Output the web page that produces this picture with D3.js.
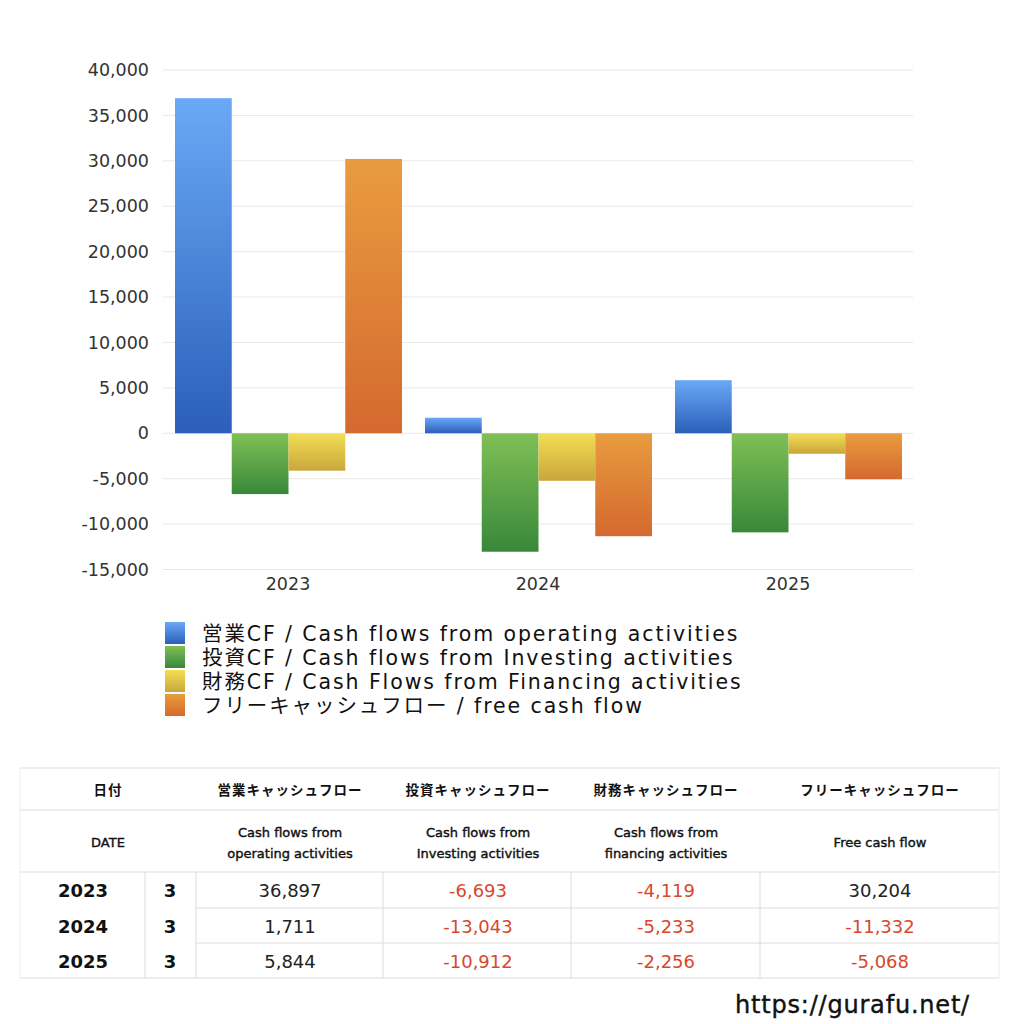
<!DOCTYPE html>
<html>
<head>
<meta charset="utf-8">
<script src="https://cdn.jsdelivr.net/npm/d3@7"></script>
<style>
  body { margin: 0; background: #fff; }
  svg { font-family: "DejaVu Sans", "Noto Sans CJK JP", sans-serif; }
</style>
</head>
<body>
<script>
const years = ["2023", "2024", "2025"];
const months = ["3", "3", "3"];
const operating = [36897, 1711, 5844];
const investing = [-6693, -13043, -10912];
const financing = [-4119, -5233, -2256];
const freeCF = [30204, -11332, -5068];
const yTicks = [-15000, -10000, -5000, 0, 5000, 10000, 15000, 20000, 25000, 30000, 35000, 40000];

const seriesNames = [
  "営業CF / Cash flows from operating activities",
  "投資CF / Cash flows from Investing activities",
  "財務CF / Cash Flows from Financing activities",
  "フリーキャッシュフロー / free cash flow"
];
const headJa = ["日付", "営業キャッシュフロー", "投資キャッシュフロー", "財務キャッシュフロー", "フリーキャッシュフロー"];
const headEn = [["DATE"], ["Cash flows from", "operating activities"], ["Cash flows from", "Investing activities"], ["Cash flows from", "financing activities"], ["Free cash flow"]];

const seriesValues = [operating, investing, financing, freeCF];
const colors = [
  ["#6aa9f6", "#2b5fb9"],
  ["#80bf56", "#38883a"],
  ["#f3de55", "#c9a63c"],
  ["#e99c3f", "#d4692f"]
];

// hyphen instead of unicode minus, like the original
var fmt = v => d3.format(",")(v).replace("\u2212", "-");

var svg = d3.select("body").append("svg")
    .attr("width", 1024)
    .attr("height", 1024);

var defs = svg.append("defs");
colors.forEach((c, i) => {
  var g = defs.append("linearGradient")
      .attr("id", "grad" + i)
      .attr("x1", 0).attr("y1", 0).attr("x2", 0).attr("y2", 1);
  g.append("stop").attr("offset", "0%").attr("stop-color", c[0]);
  g.append("stop").attr("offset", "100%").attr("stop-color", c[1]);
});

// chart area
var left = 163, right = 913;
var y = d3.scaleLinear().domain([-15000, 40000]).range([569.5, 70]);
var x0 = d3.scaleBand().domain(years).range([left, right]);
var x1 = d3.scaleBand().domain(d3.range(4)).range([12, x0.bandwidth() - 11]);

// gridlines
svg.append("g")
  .selectAll("line")
  .data(yTicks)
  .enter().append("line")
    .attr("x1", left).attr("x2", right)
    .attr("y1", d => y(d)).attr("y2", d => y(d))
    .attr("stroke", "#e8e8e8");

// y axis
var yAxis = svg.append("g")
    .attr("transform", "translate(" + left + ",0)")
    .call(d3.axisLeft(y).tickValues(yTicks).tickSize(0).tickPadding(14).tickFormat(fmt));
yAxis.select(".domain").remove();
yAxis.selectAll("text").attr("font-size", 17.5).attr("fill", "#333").style("font-family", "'DejaVu Sans', sans-serif");

// x axis
var xAxis = svg.append("g")
    .attr("transform", "translate(0," + 573 + ")")
    .call(d3.axisBottom(x0).tickSize(0).tickPadding(5));
xAxis.select(".domain").remove();
xAxis.selectAll("text").attr("font-size", 17.5).attr("fill", "#333").style("font-family", "'DejaVu Sans', sans-serif");

// bars
years.forEach((yr, gi) => {
  seriesValues.forEach((vals, si) => {
    var v = vals[gi];
    svg.append("rect")
      .attr("x", x0(yr) + x1(si))
      .attr("width", x1.bandwidth())
      .attr("y", y(Math.max(0, v)))
      .attr("height", Math.abs(y(v) - y(0)))
      .attr("fill", "url(#grad" + si + ")");
  });
});

// legend
var legend = svg.append("g").attr("transform", "translate(165,622)");
seriesNames.forEach((name, i) => {
  var row = legend.append("g").attr("transform", "translate(0," + (i * 24) + ")");
  row.append("rect").attr("width", 20).attr("height", 22).attr("fill", "url(#grad" + i + ")");
  row.append("text").attr("x", 37).attr("y", 19).attr("font-size", 20.5)
    .attr("letter-spacing", 1.9).attr("fill", "#111").text(name);
});

// table
var rowY = [768, 810, 872, 908, 943, 978];
var tbl = svg.append("g");
var lineColor = "#dcdcdc";

function hline(x1, x2, yy) {
  tbl.append("line").attr("x1", x1).attr("x2", x2).attr("y1", yy).attr("y2", yy).attr("stroke", lineColor);
}
function vline(xx, y1, y2, c) {
  tbl.append("line").attr("x1", xx).attr("x2", xx).attr("y1", y1).attr("y2", y2).attr("stroke", c || lineColor);
}
hline(20, 999, rowY[0]);
hline(20, 999, rowY[1]);
hline(20, 999, rowY[2]);
hline(196, 999, rowY[3]);
hline(196, 999, rowY[4]);
hline(20, 999, rowY[5]);
vline(20, rowY[0], rowY[5], "#eee");
vline(999, rowY[0], rowY[5], "#eee");
[145, 196, 383, 571, 760].forEach(cx => vline(cx, rowY[2], rowY[5]));

// header texts
var headCenters = [108, 290, 478, 666, 880];
headJa.forEach((t, i) => {
  tbl.append("text").attr("x", headCenters[i]).attr("y", 795)
    .attr("text-anchor", "middle").attr("font-size", 13.5).attr("letter-spacing", 1)
    .attr("font-weight", "bold").attr("fill", "#111").text(t);
});
headEn.forEach((lines, i) => {
  lines.forEach((ln, j) => {
    var yy = lines.length === 1 ? 847 : 837 + j * 21;
    tbl.append("text").attr("x", headCenters[i]).attr("y", yy)
      .attr("text-anchor", "middle").attr("font-size", 13).attr("fill", "#111")
      .attr("stroke", "#111").attr("stroke-width", 0.4).text(ln);
  });
});

// data rows
var valCenters = [290, 478, 666, 880];
years.forEach((yr, r) => {
  var cy = (rowY[r + 2] + rowY[r + 3]) / 2 + 7;
  tbl.append("text").attr("x", 83).attr("y", cy).attr("text-anchor", "middle")
    .attr("font-size", 18).attr("font-weight", "bold").attr("fill", "#111").text(yr);
  tbl.append("text").attr("x", 170).attr("y", cy).attr("text-anchor", "middle")
    .attr("font-size", 18).attr("font-weight", "bold").attr("fill", "#111").text(months[r]);
  seriesValues.forEach((vals, si) => {
    var v = vals[r];
    tbl.append("text").attr("x", valCenters[si]).attr("y", cy).attr("text-anchor", "middle")
      .attr("font-size", 18).attr("fill", v < 0 ? "#d9472b" : "#222").text(fmt(v));
  });
});

// source url
svg.append("text").attr("x", 970).attr("y", 1013).attr("text-anchor", "end")
  .attr("font-size", 24).attr("letter-spacing", 0.8).attr("fill", "#111")
  .attr("stroke", "#111").attr("stroke-width", 0.4)
  .text("https://gurafu.net/");
</script>
</body>
</html>
